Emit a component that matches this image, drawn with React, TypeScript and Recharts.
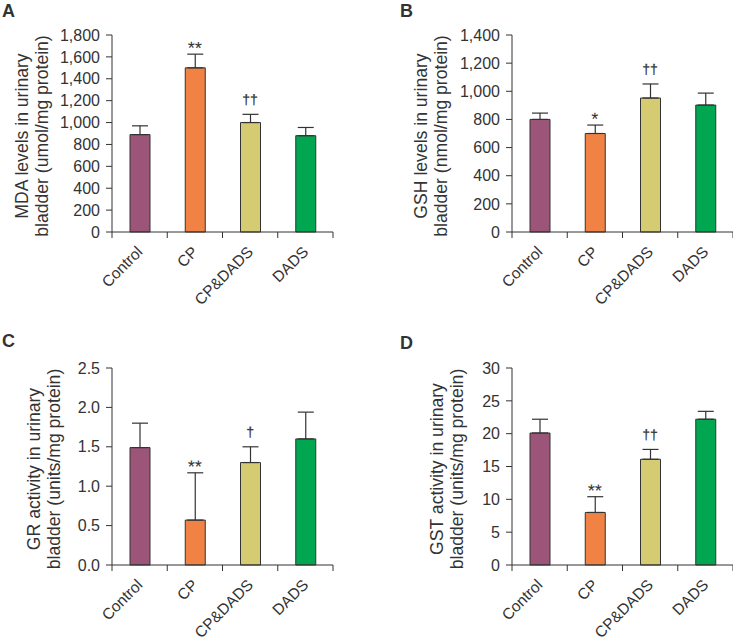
import { BarChart, Bar, Cell, XAxis, YAxis, ErrorBar, ReferenceDot } from 'recharts';

// groups and colours shared by all four panels
const groups = ['Control', 'CP', 'CP&DADS', 'DADS'];
const fills = ['#9C5479', '#F08344', '#D5CB73', '#00A650'];

// A: MDA
const mdaMean = [890, 1500, 1000, 880];
const mdaErr = [80, 125, 75, 75];
const mdaMarks = ['', '**', '††', ''];
const mdaTicks = [0, 200, 400, 600, 800, 1000, 1200, 1400, 1600, 1800];

// B: GSH
const gshMean = [800, 700, 952, 902];
const gshErr = [45, 60, 100, 85];
const gshMarks = ['', '*', '††', ''];
const gshTicks = [0, 200, 400, 600, 800, 1000, 1200, 1400];

// C: GR
const grMean = [1.49, 0.57, 1.3, 1.6];
const grErr = [0.31, 0.6, 0.2, 0.34];
const grMarks = ['', '**', '†', ''];
const grTicks = [0, 0.5, 1.0, 1.5, 2.0, 2.5];

// D: GST
const gstMean = [20.1, 8.0, 16.1, 22.2];
const gstErr = [2.1, 2.4, 1.5, 1.2];
const gstMarks = ['', '**', '††', ''];
const gstTicks = [0, 5, 10, 15, 20, 25, 30];

const INK = '#333';
const FONT = '"Liberation Sans", Arial, sans-serif';
const PLOT_W = 221;

function YLabel({ viewBox, lines, off }: any) {
  const right = viewBox.x + viewBox.width;
  const cy = viewBox.y + viewBox.height / 2 + 2.5;
  return (
    <g>
      {lines.map((t: string, i: number) => {
        const x = right - off - (lines.length - 1 - i) * 20;
        return (
          <text key={i} x={x} y={cy} transform={`rotate(-90 ${x} ${cy})`} textAnchor="middle"
            dominantBaseline="central" fontSize={17.6} fill={INK} fontFamily={FONT}>
            {t}
          </text>
        );
      })}
    </g>
  );
}

function CatTick(props: any) {
  const { x, y, payload, index } = props;
  const half = PLOT_W / groups.length / 2;
  const i = index ?? payload.index;
  const ty = y + 17;
  return (
    <g>
      <line x1={x - half} x2={x - half} y1={y} y2={y + 6} stroke={INK} />
      {i === groups.length - 1 && <line x1={x + half} x2={x + half} y1={y} y2={y + 6} stroke={INK} />}
      <text x={x} y={ty} transform={`rotate(-45 ${x} ${ty})`} textAnchor="end" dominantBaseline="central"
        fontSize={15.5} fill={INK} fontFamily={FONT}>
        {payload.value}
      </text>
    </g>
  );
}

// significance marks sit just above the error bar cap
function Mark({ cx, cy, m }: any) {
  const star = m.includes('*');
  const y = cy - (star ? 0 : 10);
  return (
    <g opacity={0.99}>
      <text x={cx} y={y} transform={`rotate(0.5 ${cx} ${y})`} textAnchor="middle" fontSize={star ? 18 : 14}
        fill={INK} stroke={star ? 'none' : INK} strokeWidth={0.25} fontFamily={FONT}>
        {m}
      </text>
    </g>
  );
}

function Panel({ mean, err, marks, ticks, fmt, lines, off }: any) {
  const data = groups.map((g, i) => ({ name: g, value: mean[i], err: [0, err[i]] }));
  return (
    <BarChart width={335} height={320} data={data} margin={{ top: 35, right: 2, left: 0, bottom: 0 }}>
      <XAxis dataKey="name" height={88} stroke={INK} tickLine={false} tickSize={0} tickMargin={0}
        interval={0} tick={<CatTick />} />
      <YAxis width={112} domain={[0, ticks[ticks.length - 1]]} ticks={ticks} interval={0} stroke={INK}
        tickSize={6} tickMargin={6} tickFormatter={fmt}
        tick={{ fontSize: 16, fill: INK, fontFamily: FONT }}
        label={<YLabel lines={lines} off={off} />} />
      <Bar dataKey="value" barSize={20} stroke={INK} strokeWidth={1} isAnimationActive={false}>
        {data.map((d, i) => <Cell key={d.name} fill={fills[i]} />)}
        <ErrorBar dataKey="err" width={8} stroke={INK} strokeWidth={1.2} direction="y" />
      </Bar>
      {marks.map((m: string, i: number) =>
        m ? (
          <ReferenceDot key={i} x={groups[i]} y={mean[i] + err[i]} r={0} ifOverflow="extendDomain"
            shape={(p: any) => <Mark cx={p.cx} cy={p.cy} m={m} />} />
        ) : null
      )}
    </BarChart>
  );
}

const thousands = (v: number) => v.toLocaleString('en-US');

const letter = (t: string, left: number, top: number) => (
  <div style={{ position: 'absolute', left, top, fontFamily: FONT, fontWeight: 'bold', fontSize: 18, color: INK, lineHeight: '18px' }}>
    {t}
  </div>
);

export default function App() {
  return (
    <div style={{ position: 'absolute', left: 0, top: 0, width: 733, height: 639, background: '#fff', overflow: 'hidden' }}>
      {letter('A', 2, 2)}
      {letter('B', 400, 2)}
      {letter('C', 2, 332)}
      {letter('D', 400, 334)}
      <div style={{ position: 'absolute', left: 0, top: 0 }}>
        <Panel mean={mdaMean} err={mdaErr} marks={mdaMarks} ticks={mdaTicks} fmt={thousands}
          lines={['MDA levels in urinary', 'bladder (umol/mg protein)']} off={70} />
      </div>
      <div style={{ position: 'absolute', left: 400, top: 0 }}>
        <Panel mean={gshMean} err={gshErr} marks={gshMarks} ticks={gshTicks} fmt={thousands}
          lines={['GSH levels in urinary', 'bladder (nmol/mg protein)']} off={71} />
      </div>
      <div style={{ position: 'absolute', left: 0, top: 333 }}>
        <Panel mean={grMean} err={grErr} marks={grMarks} ticks={grTicks} fmt={(v: number) => v.toFixed(1)}
          lines={['GR activity in urinary', 'bladder (units/mg protein)']} off={58} />
      </div>
      <div style={{ position: 'absolute', left: 400, top: 333 }}>
        <Panel mean={gstMean} err={gstErr} marks={gstMarks} ticks={gstTicks} fmt={(v: number) => String(v)}
          lines={['GST activity in urinary', 'bladder (units/mg protein)']} off={55} />
      </div>
    </div>
  );
}
